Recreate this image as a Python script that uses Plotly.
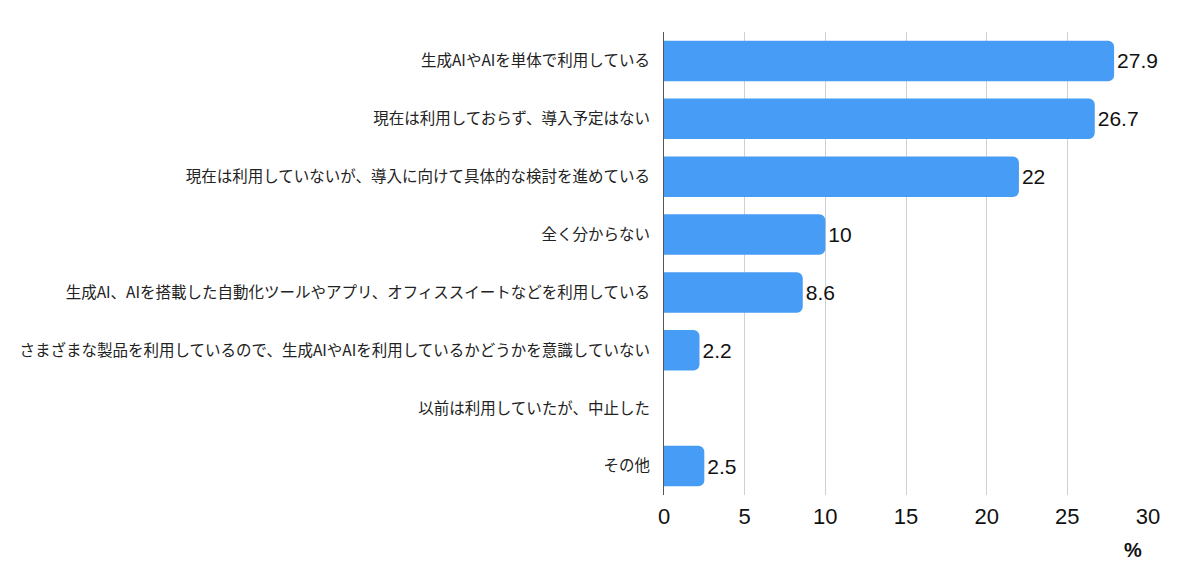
import plotly.graph_objects as go

# Survey answers (top to bottom) and share in %
categories = [
    "生成AIやAIを単体で利用している",
    "現在は利用しておらず、導入予定はない",
    "現在は利用していないが、導入に向けて具体的な検討を進めている",
    "全く分からない",
    "生成AI、AIを搭載した自動化ツールやアプリ、オフィススイートなどを利用している",
    "さまざまな製品を利用しているので、生成AIやAIを利用しているかどうかを意識していない",
    "以前は利用していたが、中止した",
    "その他",
]
values = [27.9, 26.7, 22, 10, 8.6, 2.2, None, 2.5]
x_ticks = [0, 5, 10, 15, 20, 25, 30]

labels = ["" if v is None else f"{v:g}" for v in values]

fig = go.Figure(go.Bar(
    y=categories,
    x=values,
    orientation="h",
    marker=dict(color="#479DF5", line=dict(width=0)),
    text=labels,
    textposition="outside",
    cliponaxis=False,
    textfont=dict(size=21, color="#111111", family="Liberation Sans, Arial, sans-serif"),
    width=0.7,
))

fig.update_layout(
    width=1200, height=572,
    margin=dict(l=656, r=60, t=24, b=85),
    paper_bgcolor="white", plot_bgcolor="white",
    font=dict(family="Noto Sans CJK JP, Noto Sans, sans-serif", color="#222222"),
    barcornerradius=6,
    showlegend=False,
)
fig.update_xaxes(
    range=[0, 30], tickvals=x_ticks, ticktext=[str(t) for t in x_ticks],
    showgrid=True, gridcolor="#D0D0D0", gridwidth=1,
    zeroline=False, showline=False,
    tickfont=dict(size=22, color="#111111", family="Liberation Sans, Arial, sans-serif"),
    ticks="", ticklen=0, ticklabelstandoff=6,
)
fig.update_yaxes(
    autorange="reversed",
    showline=True, linecolor="#555555", linewidth=1,
    tickfont=dict(size=15.5, color="#222222"),
    ticks="", ticklabelstandoff=10,
)
fig.add_annotation(
    text="<b>%</b>", xref="x", yref="paper", x=29.1, y=0, yanchor="top",
    yshift=-42, showarrow=False,
    font=dict(size=20, color="#111111", family="Liberation Sans, Arial, sans-serif"),
)

fig.write_html("out.html")
